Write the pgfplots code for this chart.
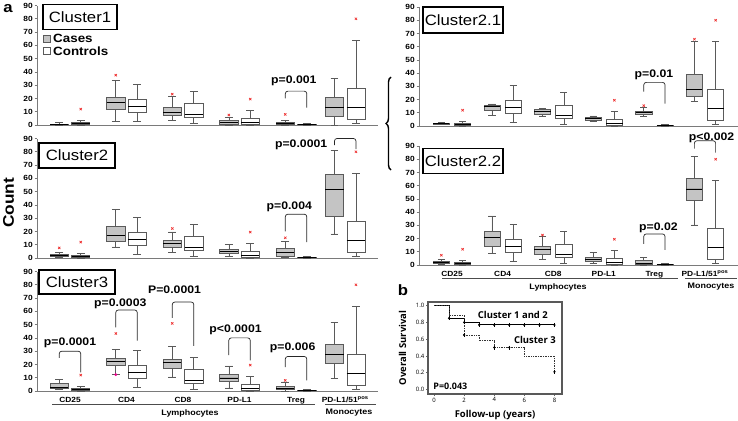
\documentclass[border=0pt]{standalone}
\usepackage{fontspec}
\setmainfont{Liberation Sans}[FakeStretch=1.12]
\newfontfamily\osans{Open Sans}
\usepackage{pgfplots}
\pgfplotsset{compat=1.18}
\usepgfplotslibrary{statistics}
\usetikzlibrary{decorations.pathreplacing}

\definecolor{casefill}{HTML}{C4C4C4}
\definecolor{boxdraw}{HTML}{5A5A5A}
\definecolor{outl}{HTML}{EE3030}
\definecolor{axgray}{HTML}{7A7A7A}

\newcommand\fs[1]{\fontsize{#1}{#1}\selectfont}

\pgfplotsset{
  /pgf/number format/assume math mode=true,
  bx/.style={draw=boxdraw, line width=0.6pt, solid, mark=none},
  outst/.style={only marks, mark=x, mark size=1.6bp, outl, line width=0.7pt},
  panel/.style={
    scale only axis, anchor=south west, clip=false,
    ymin=0, ymax=90, ytick={0,10,...,90},
    axis x line*=bottom, axis y line*=left,
    axis line style={axgray, line width=0.9pt, -},
    tick style={axgray, line width=0.6pt},
    major tick length=2.5bp, tick align=outside,
    xtick=\empty,
    xtick style={draw=none},
    yticklabel style={font=\fs{7.5}\bfseries, inner sep=1.5bp},
    xticklabel style={font=\fs{7.5}\bfseries},
    boxplot/draw direction=y,
    boxplot/box extend=0.32,
    boxplot/whisker extend=0.14,
    boxplot/every median/.style={black, line width=0.9pt},
  },
  L/.style={panel, width=341bp, height=119.5bp, xmin=0.416, xmax=6.45},
  R/.style={panel, width=319bp, height=119bp, xmin=0.348, xmax=6.652},
}

\newcommand\ca[6]{\addplot[bx, fill=casefill, boxplot prepared={draw position=#1, lower whisker=#2, lower quartile=#3, median=#4, upper quartile=#5, upper whisker=#6}] coordinates {};}
\newcommand\co[6]{\addplot[bx, fill=white, boxplot prepared={draw position=#1, lower whisker=#2, lower quartile=#3, median=#4, upper quartile=#5, upper whisker=#6}] coordinates {};}
\newcommand\brk[5]{\draw[black!85, line width=0.7pt, rounded corners=2.5bp] (axis cs:#1,#3) -- (axis cs:#1,#5) -- (axis cs:#2,#5) -- (axis cs:#2,#4);}
\newcommand\pv[3]{\node[font=\fs{11}\bfseries, inner sep=0] at (axis cs:#1,#2) {#3};}

\newcommand\ctrlL{%
\co{1.19}{0}{0.3}{0.8}{1.8}{3.5}
\co{2.19}{2.5}{9.5}{13.75}{19.5}{31}
\co{3.19}{1.25}{5.75}{7.75}{16}{25.5}
\co{4.19}{0}{0.5}{2}{4.8}{11}
\co{5.19}{0}{0.2}{0.5}{0.9}{1.3}
\co{6.06}{1.25}{4.5}{13}{28}{64}
\addplot[outst] coordinates {(1.19,12) (4.19,19.5) (6.06,80)};
}
\newcommand\ctrlR{%
\co{1.21}{0}{0.3}{0.8}{1.8}{3.5}
\co{2.21}{2.5}{9.5}{13.75}{19.5}{31}
\co{3.21}{1.25}{5.75}{7.75}{16}{25.5}
\co{4.21}{0}{0.5}{2}{4.8}{11}
\co{5.21}{0}{0.2}{0.5}{0.9}{1.3}
\co{6.21}{1.25}{4.5}{13}{28}{64}
\addplot[outst] coordinates {(1.21,12) (4.21,19.5) (6.21,80)};
}

\begin{document}
\begin{tikzpicture}

% ---------- Cluster1 ----------
\begin{axis}[L, at={(37bp,-125bp)}]
\ca{0.81}{0}{0.2}{0.5}{0.9}{2.2}
\ca{1.81}{2.5}{11.75}{17}{20.75}{33.5}
\ca{2.81}{3.75}{7.5}{9.5}{13}{21.25}
\ca{3.81}{0}{0.5}{1.8}{3.25}{5.5}
\ca{4.81}{0}{0.5}{1.25}{1.75}{3.25}
\ca{5.68}{0}{6.25}{13.25}{20.5}{35}
\addplot[outst] coordinates {(1.81,37.5) (2.81,23.25) (3.81,7.5) (4.81,8)};
\ctrlL
\brk{4.81}{5.19}{20}{13}{25.5}
\pv{4.96}{33}{p=0.001}
\end{axis}

% ---------- Cluster2 ----------
\begin{axis}[L, at={(37bp,-258bp)}]
\ca{0.81}{0.75}{1.5}{2}{3}{4}
\ca{1.81}{8.3}{12.6}{17.2}{24.2}{36.9}
\ca{2.81}{4.5}{8.3}{10.9}{13.4}{19.7}
\ca{3.81}{1.5}{3.3}{5}{6.6}{10.4}
\ca{4.81}{0.5}{1.5}{4}{7}{12.6}
\ca{5.68}{18.2}{31.6}{51.8}{63}{80.8}
\addplot[outst] coordinates {(0.81,7.6) (2.81,22.2) (4.81,15.2)};
\ctrlL
\brk{4.81}{5.19}{20}{12}{33}
\pv{4.88}{38.6}{p=0.004}
\brk{5.68}{6.06}{85}{82}{90}
\pv{5.09}{85.5}{p=0.0001}
\end{axis}

% ---------- Cluster3 ----------
\begin{axis}[L, at={(37bp,-391bp)},
  xtick={1,2,3,4,5,5.87},
  xticklabels={CD25,CD4,CD8,PD-L1,Treg,PD-L1/51\textsuperscript{pos}}]
\ca{0.81}{1}{1.8}{3}{5.5}{8.6}
\ca{1.81}{12.3}{19.4}{21.9}{24.4}{31.2}
\ca{2.81}{10.6}{16.9}{21.2}{23.9}{33.8}
\ca{3.81}{2.3}{7.3}{9.8}{12.3}{18.9}
\ca{4.81}{0}{1}{1.8}{3.5}{6.8}
\ca{5.68}{9.3}{20.7}{27.5}{35}{51.4}
\addplot[outst] coordinates {(1.81,43.3) (2.81,50.9) (4.81,8)};
\addplot[only marks, mark=*, mark size=1.2bp, magenta] coordinates {(1.81,12.3)};
\ctrlL
\brk{0.81}{1.19}{25}{14}{30}
\pv{1.0}{36.3}{p=0.0001}
\brk{1.81}{2.19}{48}{38}{61}
\pv{1.89}{65.8}{p=0.0003}
\brk{2.81}{3.19}{55}{34}{67}
\pv{2.85}{76.4}{P=0.0001}
\brk{3.81}{4.19}{27}{23}{40}
\pv{3.93}{46.1}{p<0.0001}
\brk{4.81}{5.19}{18}{8}{26}
\pv{4.94}{32.5}{p=0.006}
\end{axis}

% ---------- Cluster2.1 ----------
\begin{axis}[R, at={(419bp,-126bp)}]
\ca{0.79}{1}{1.5}{1.9}{2.4}{2.8}
\ca{1.79}{8.3}{12.1}{14.6}{15.9}{16.7}
\ca{2.79}{7.6}{8.8}{10.9}{12.6}{13.4}
\ca{3.79}{3.3}{4.5}{5.8}{6.6}{7.6}
\ca{4.79}{7.1}{9.1}{10.4}{11.4}{14}
\ca{5.79}{18.9}{22.2}{27.3}{39.4}{64}
\addplot[outst] coordinates {(4.79,15.4) (5.79,65.7)};
\ctrlR
\brk{4.79}{5.21}{26}{17}{33}
\pv{4.99}{38.6}{p=0.01}
\end{axis}

% ---------- Cluster2.2 ----------
\begin{axis}[R, at={(419bp,-265bp)},
  xtick={1,2,3,4,5,6},
  xticklabels={CD25,CD4,CD8,PD-L1,Treg,PD-L1/51\textsuperscript{pos}}]
\ca{0.79}{0.5}{1}{1.8}{2.8}{4}
\ca{1.79}{9}{14.1}{20.9}{25.4}{37.2}
\ca{2.79}{4}{8.3}{11.6}{14.1}{21.6}
\ca{3.79}{1.5}{2.8}{4.5}{6}{9.5}
\ca{4.79}{0}{0.5}{1}{3.8}{5.8}
\ca{5.79}{30.4}{49.2}{57.5}{65.6}{81.9}
\addplot[outst] coordinates {(0.79,7.3) (2.79,22.6)};
\ctrlR
\brk{4.79}{5.21}{16}{11.5}{23.5}
\pv{5.08}{28}{p=0.02}
\brk{5.79}{6.21}{88}{85}{94}
\pv{6.13}{96}{p<0.002}
\end{axis}

% ---------- Survival (b) ----------
\begin{axis}[at={(428bp,-394bp)}, anchor=south west, scale only axis,
  width=134bp, height=92bp, clip=false,
  xmin=-0.4, xmax=8.5, ymin=-0.055, ymax=1.044,
  xtick={0,2,4,6,8}, ytick={0,0.2,0.4,0.6,0.8,1.0},
  xtick pos=bottom, ytick pos=left, tick align=outside, major tick length=2bp,
  axis line style={line width=1.1pt, black!65},
  tick style={black!60, line width=0.5pt},
  ticklabel style={font=\osans\fs{6}, inner sep=1.5bp},
  yticklabel style={/pgf/number format/fixed, /pgf/number format/fixed zerofill, /pgf/number format/precision=1},
  xlabel={Follow-up (years)}, ylabel={Overall Survival},
  xlabel style={font=\osans\bfseries\fs{9.5}, at={(axis description cs:0.5,-0.23)}, anchor=center},
  ylabel style={font=\osans\bfseries\fs{9.5}, at={(axis description cs:-0.19,0.5)}, anchor=center},
]
\addplot[const plot, black, line width=0.9pt] coordinates {(0,1) (1,0.85) (2,0.80) (3,0.77) (8,0.77)};
\addplot[const plot, black!80, densely dotted, line width=0.7pt] coordinates {(0,1) (1,0.89) (2,0.65) (3,0.58) (4,0.50) (6,0.40) (8,0.21)};
\addplot[only marks, mark=|, mark size=2bp, black, line width=0.6pt] coordinates {(1,0.85) (2,0.80) (3,0.77) (4,0.77) (5,0.77) (6,0.77) (7,0.77) (8,0.77) (2,0.65) (4,0.50) (5,0.50) (8,0.21)};
\addplot[only marks, mark=*, mark size=0.9bp, black] coordinates {(1,0.85) (2,0.80) (3,0.77) (4,0.77) (5,0.77) (6,0.77) (7,0.77) (8,0.77) (2,0.65) (4,0.50) (5,0.50) (8,0.21)};
\node[anchor=west, font=\osans\bfseries\fs{9.5}, inner sep=0] at (axis cs:2.9,0.885) {Cluster 1 and 2};
\node[anchor=west, font=\osans\bfseries\fs{9.5}, inner sep=0] at (axis cs:5.3,0.585) {Cluster 3};
\node[anchor=west, font=\osans\bfseries\fs{9}, inner sep=0] at (axis cs:-0.05,0.035) {P=0.043};
\end{axis}

% ---------- annotations ----------
\node[font=\fs{15}\bfseries] at (8bp,-9bp) {a};
\node[font=\fs{15}\bfseries] at (403bp,-290bp) {b};
\node[font=\fs{15.5}\bfseries, rotate=90] at (8.5bp,-203bp) {Count};

\node[draw, line width=1.3pt, minimum width=74bp, minimum height=25bp, inner sep=0, font=\fs{15}] at (80bp,-17bp) {Cluster1};
\node[draw, line width=1.3pt, minimum width=76bp, minimum height=25bp, inner sep=0, font=\fs{15}] at (77bp,-155.5bp) {Cluster2};
\node[draw, line width=1.3pt, minimum width=76bp, minimum height=24bp, inner sep=0, font=\fs{15}] at (77bp,-282bp) {Cluster3};
\node[draw, line width=1.3pt, minimum width=80bp, minimum height=26bp, inner sep=0, font=\fs{15}] at (463bp,-20bp) {Cluster2.1};
\node[draw, line width=1.3pt, minimum width=80bp, minimum height=25bp, inner sep=0, font=\fs{15}] at (463bp,-161bp) {Cluster2.2};

% legend
\draw[boxdraw, fill=casefill, line width=0.6pt] (43bp,-35bp) rectangle (50bp,-42bp);
\node[anchor=west, font=\fs{12}\bfseries, inner sep=0] at (53bp,-38.5bp) {Cases};
\draw[boxdraw, fill=white, line width=0.6pt] (43bp,-47bp) rectangle (50bp,-54bp);
\node[anchor=west, font=\fs{12}\bfseries, inner sep=0] at (53bp,-51bp) {Controls};

% group labels left
\draw[black!70, line width=0.8pt] (52bp,-404bp) -- (315bp,-404bp);
\draw[black!70, line width=0.8pt] (325bp,-404bp) -- (376bp,-404bp);
\node[font=\fs{8}\bfseries] at (190bp,-413bp) {Lymphocytes};
\node[font=\fs{8}\bfseries] at (349bp,-413bp) {Monocytes};
% group labels right
\draw[black!70, line width=0.8pt] (442bp,-278bp) -- (678bp,-278bp);
\draw[black!70, line width=0.8pt] (685bp,-278bp) -- (737bp,-278bp);
\node[font=\fs{8}\bfseries] at (558bp,-287bp) {Lymphocytes};
\node[font=\fs{8}\bfseries] at (711bp,-287bp) {Monocytes};

% brace
\draw[decorate, decoration={brace, amplitude=5bp}, line width=1.4pt] (391bp,-170bp) -- (391bp,-77bp);

\pgfresetboundingbox
\path[use as bounding box] (0bp,0bp) rectangle (738bp,-421bp);
\end{tikzpicture}
\end{document}
